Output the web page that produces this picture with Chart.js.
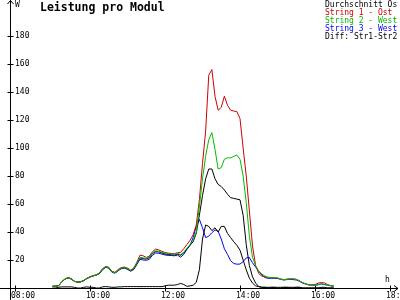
<!DOCTYPE html>
<html>
<head>
<meta charset="utf-8">
<script src="https://cdn.jsdelivr.net/npm/chart.js@4.4.1/dist/chart.umd.min.js"></script>
<style>
  html, body { margin: 0; padding: 0; background: #ffffff; }
  #wrap { width: 400px; height: 300px; }
</style>
</head>
<body>
<div id="wrap"><canvas id="chart" width="400" height="300"></canvas></div>
<script>
const times = [
  "09:00", "09:05", "09:10", "09:15", "09:20", "09:25", "09:30", "09:35", "09:40", "09:45", "09:50", "09:55",
  "10:00", "10:05", "10:10", "10:15", "10:20", "10:25", "10:30", "10:35", "10:40", "10:45", "10:50", "10:55",
  "11:00", "11:05", "11:10", "11:15", "11:20", "11:25", "11:30", "11:35", "11:40", "11:45", "11:50", "11:55",
  "12:00", "12:05", "12:10", "12:15", "12:20", "12:25", "12:30", "12:35", "12:40", "12:45", "12:50", "12:55",
  "13:00", "13:05", "13:10", "13:15", "13:20", "13:25", "13:30", "13:35", "13:40", "13:45", "13:50", "13:55",
  "14:00", "14:05", "14:10", "14:15", "14:20", "14:25", "14:30", "14:35", "14:40", "14:45", "14:50", "14:55",
  "15:00", "15:05", "15:10", "15:15", "15:20", "15:25", "15:30", "15:35", "15:40", "15:45", "15:50", "15:55",
  "16:00", "16:05", "16:10", "16:15", "16:20", "16:25", "16:30"
];

// Durchschnitt
const avgValues = [
  1.2, 1.3, 1.7, 4.5, 6.4, 7.3, 6.5, 4.8, 4.3, 4.4, 5.3, 6.8,
  7.9, 8.7, 9.2, 10.5, 13.3, 15.0, 14.4, 11.5, 10.8, 12.5, 14.1, 14.5,
  13.6, 12.3, 13.7, 17.5, 21.5, 21.0, 20.7, 21.6, 24.6, 26.0, 25.8, 25.0,
  24.3, 24.0, 23.8, 23.6, 24.1, 23.4, 25.0, 28.0, 30.5, 33.0, 39.0, 52.0,
  66.0, 78.0, 85.0, 85.0, 78.0, 74.0, 72.5, 70.0, 67.0, 64.5, 64.0, 63.5,
  63.0, 52.0, 31.0, 16.0, 8.0, 3.5, 1.0, 0.5, 0.5, 0.5, 0.5, 0.5,
  0.5, 0.5, 0.5, 0.5, 0.5, 0.5, 0.5, 0.5, 0, 0, 0, 0,
  0, 0, 0, 0, 0, 0, 0
];

// String 1 - Ost
const str1Values = [
  1.2, 1.3, 1.7, 4.5, 6.5, 7.5, 6.7, 4.9, 4.3, 4.5, 5.5, 7.0,
  8.0, 8.9, 9.4, 10.8, 13.8, 15.4, 14.8, 11.8, 11.2, 13.2, 14.6, 15.0,
  14.2, 12.8, 14.3, 18.4, 23.5, 23.0, 21.8, 22.8, 26.0, 27.8, 27.2, 26.2,
  25.3, 24.9, 24.6, 24.5, 25.2, 25.5, 28.0, 31.0, 34.0, 38.0, 45.0, 63.0,
  89.0, 112.0, 152.0, 156.0, 137.0, 127.0, 129.0, 137.0, 130.5, 127.0, 126.4, 126.0,
  121.0, 100.0, 80.0, 55.0, 30.0, 16.0, 10.3, 8.5, 8.0, 7.6, 7.5, 7.3,
  7.1, 6.4, 5.9, 6.3, 6.5, 6.5, 6.1, 5.2, 3.8, 3.0, 2.3, 2.2,
  2.4, 3.5, 3.9, 3.6, 2.5, 1.7, 1.3
];

// String 2 - West
const str2Values = [
  1.2, 1.3, 1.7, 4.5, 6.5, 7.4, 6.6, 4.8, 4.3, 4.4, 5.3, 6.8,
  7.9, 8.8, 9.3, 10.6, 13.5, 15.2, 14.5, 11.6, 10.9, 12.6, 14.2, 14.6,
  13.8, 12.5, 14.0, 17.8, 21.9, 21.5, 21.1, 22.0, 25.2, 26.6, 26.2, 25.5,
  24.8, 24.5, 24.2, 24.0, 24.6, 24.0, 25.5, 28.4, 31.0, 34.0, 40.0, 58.0,
  78.0, 94.0, 106.0, 111.0, 99.0, 85.0, 86.0, 92.0, 93.0, 93.0, 94.0, 95.0,
  92.0, 80.0, 61.0, 37.0, 22.0, 16.0, 12.0, 10.0, 8.5, 7.6, 7.5, 7.4,
  7.2, 6.5, 5.9, 6.3, 6.6, 6.6, 6.2, 5.2, 3.8, 3.0, 2.3, 2.1,
  2.0, 2.4, 3.0, 2.6, 2.1, 1.6, 1.3
];

// String 3 - West
const str3Values = [
  1.2, 1.3, 1.7, 4.4, 6.3, 7.2, 6.4, 4.7, 4.2, 4.3, 5.2, 6.7,
  7.8, 8.6, 9.1, 10.3, 13.0, 14.8, 14.2, 11.3, 10.6, 12.3, 13.8, 14.2,
  13.3, 12.0, 13.2, 16.8, 20.5, 20.0, 19.8, 20.5, 23.5, 25.0, 24.8, 24.2,
  23.6, 23.3, 23.2, 23.0, 23.5, 22.0, 24.0, 27.5, 30.5, 36.0, 44.0, 49.0,
  43.0, 36.0, 37.0, 39.5, 41.5, 40.5, 35.0, 28.0, 24.0, 19.5, 17.5, 17.0,
  17.1, 18.8, 21.5, 21.8, 18.0, 15.0, 12.0, 9.2, 7.5, 6.9, 6.9, 6.9,
  6.8, 6.2, 5.7, 6.0, 6.2, 6.0, 5.7, 4.8, 3.6, 2.8, 2.2, 2.1,
  2.0, 2.3, 2.9, 2.4, 2.0, 1.6, 1.3
];

// Diff: Str1-Str2
const diffValues = [
  0, 0, 0.5, 0.8, 0.8, 0.8, 0.8, 0.5, 0, 0, 0.5, 0.8,
  0.5, 0.5, 0, 0, 0.8, 1, 0.8, 0.5, 0.5, 0.8, 0.8, 1,
  1, 1, 1, 1, 1, 1, 1, 1, 1, 1, 1, 1,
  1.5, 2, 2, 2, 2.5, 3.3, 2.5, 1.2, 1.5, 2, 4, 13,
  35, 45, 44, 41, 43, 40, 44, 44, 39, 36, 33, 30.5,
  27, 20, 13, 7, 3.5, 1.5, 1, 0.5, 0.5, 0, 0.5, 0.5,
  0, 0, 0.5, 0.5, 0, 0, 0.5, 0.5, 0, 0, 0, 0,
  0, 0, 0.5, 0.5, 0, 0, 0
];

const seriesLabels = ["Durchschnitt Ost", "String 1 - Ost", "String 2 - West", "String 3 - West", "Diff: Str1-Str2"];
const seriesColors = ["#000000", "#cc0000", "#00bb00", "#0000ff", "#000000"];

const xTickValues = [8, 10, 12, 14, 16, 18];
const xTickLabels = ["08:00", "10:00", "12:00", "14:00", "16:00", "18:00"];
const yTickValues = [20, 40, 60, 80, 100, 120, 140, 160, 180];
const yTickLabels = ["20", "40", "60", "80", "100", "120", "140", "160", "180"];

const MONO = "'DejaVu Sans Mono', monospace";

function toHours(t) {
  const parts = t.split(":");
  return Number(parts[0]) + Number(parts[1]) / 60;
}

function toPoints(values) {
  return times.map((t, i) => ({ x: toHours(t), y: values[i] }));
}

const axesPlugin = {
  id: "axesPlugin",
  beforeDatasetsDraw(chart) {
    const { ctx, scales } = chart;
    const xs = scales.x;
    const ys = scales.y;
    const ax = Math.round(xs.left) + 0.5;
    const ay = Math.round(ys.bottom) + 0.5;

    ctx.save();
    ctx.strokeStyle = "#000000";
    ctx.lineWidth = 1;
    ctx.beginPath();
    // axes
    ctx.moveTo(ax, 0);
    ctx.lineTo(ax, 300);
    ctx.moveTo(0, ay);
    ctx.lineTo(398, ay);
    // arrow heads
    ctx.moveTo(ax - 3, 4);
    ctx.lineTo(ax, 0.5);
    ctx.lineTo(ax + 3, 4);
    ctx.moveTo(394, ay - 3);
    ctx.lineTo(398, ay);
    ctx.lineTo(394, ay + 3);
    // ticks
    yTickValues.forEach((v) => {
      const py = Math.round(ys.getPixelForValue(v)) + 0.5;
      ctx.moveTo(ax - 3, py);
      ctx.lineTo(ax + 3, py);
    });
    xTickValues.forEach((v) => {
      const px = Math.round(xs.getPixelForValue(v)) + 0.5;
      ctx.moveTo(px, ay - 3);
      ctx.lineTo(px, ay + 3);
    });
    ctx.stroke();

    ctx.fillStyle = "#000000";
    ctx.font = "8px " + MONO;
    ctx.textAlign = "left";
    ctx.textBaseline = "middle";
    yTickValues.forEach((v, i) => {
      ctx.fillText(yTickLabels[i], ax + 4.5, ys.getPixelForValue(v));
    });
    ctx.textBaseline = "alphabetic";
    xTickValues.forEach((v, i) => {
      ctx.fillText(xTickLabels[i], xs.getPixelForValue(v) - 4, 297.5);
    });
    ctx.fillText("W", 15, 7);
    ctx.fillText("h", 385, 282);

    // title
    ctx.font = "bold 11.5px " + MONO;
    ctx.fillText("Leistung pro Modul", 40, 11);

    // legend
    ctx.beginPath();
    ctx.rect(0, 0, 398, 300);
    ctx.clip();
    ctx.font = "8px " + MONO;
    seriesLabels.forEach((label, i) => {
      ctx.fillStyle = seriesColors[i];
      ctx.fillText(label, 325, 7 + i * 8);
    });
    ctx.restore();
  }
};

function renderChart() {
  const ctx = document.getElementById("chart").getContext("2d");
  const drawOrder = [3, 1, 0, 4, 2];

  new Chart(ctx, {
    type: "line",
    data: {
      datasets: [avgValues, str1Values, str2Values, str3Values, diffValues].map((values, i) => ({
        label: seriesLabels[i],
        data: toPoints(values),
        borderColor: seriesColors[i],
        backgroundColor: seriesColors[i],
        borderWidth: 1,
        pointRadius: 0,
        tension: 0,
        fill: false,
        order: drawOrder[i]
      }))
    },
    options: {
      responsive: false,
      animation: false,
      devicePixelRatio: 1,
      layout: { padding: { left: 10, right: 2, top: 0, bottom: 12 } },
      plugins: {
        legend: { display: false },
        title: { display: false },
        tooltip: { enabled: false }
      },
      scales: {
        x: {
          type: "linear",
          display: false,
          min: 8 - 5 / 37.5,
          max: 8 + 383 / 37.5
        },
        y: {
          type: "linear",
          display: false,
          min: 0,
          max: 288 / 1.4
        }
      }
    },
    plugins: [axesPlugin]
  });
}

document.addEventListener("DOMContentLoaded", renderChart);
</script>
</body>
</html>
